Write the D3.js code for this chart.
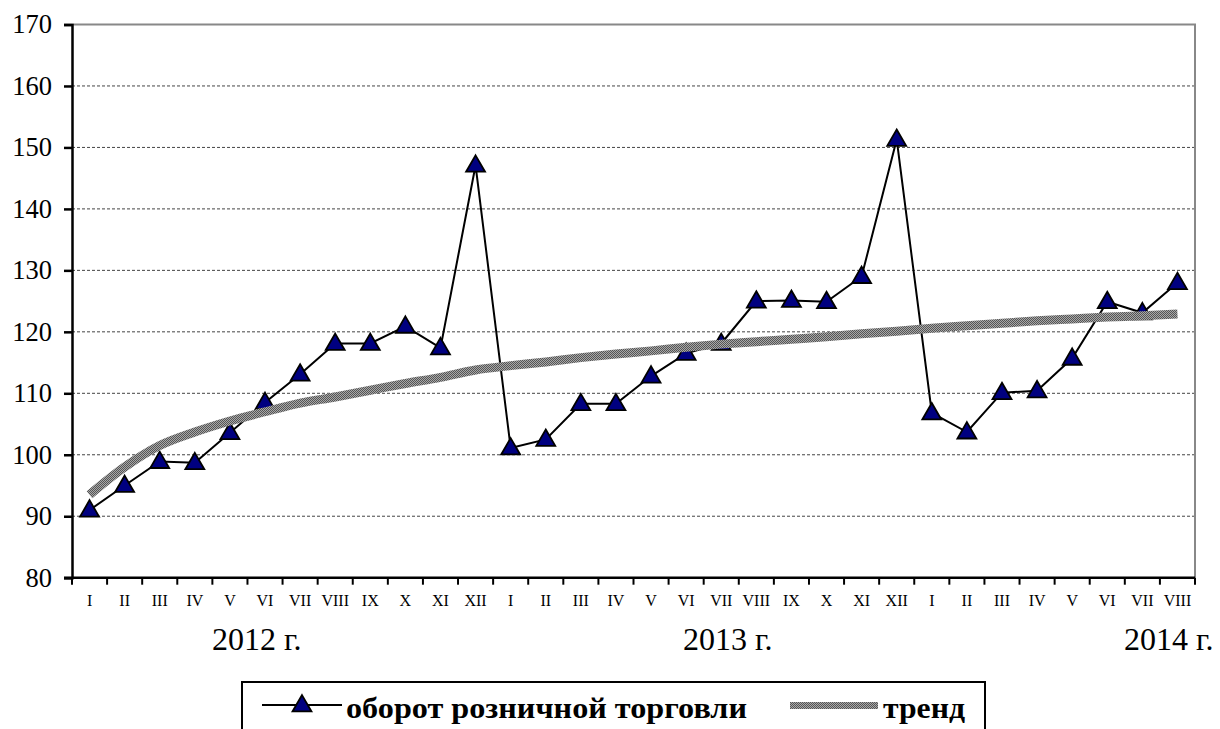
<!DOCTYPE html>
<html><head><meta charset="utf-8">
<script src="https://cdn.jsdelivr.net/npm/d3@7"></script>
<style>
html,body{margin:0;padding:0;background:#fff;}
svg{display:block;}
svg text{font-family:"Liberation Serif","Times New Roman",serif !important;}
</style></head>
<body>
<svg id="chart" width="1220" height="729"></svg>
<script>
const months = ["I","II","III","IV","V","VI","VII","VIII","IX","X","XI","XII",
                "I","II","III","IV","V","VI","VII","VIII","IX","X","XI","XII",
                "I","II","III","IV","V","VI","VII","VIII"];
const retail = [91.0, 95.0, 98.9, 98.7, 103.6, 108.5, 113.1, 118.1, 118.1, 120.9, 117.4, 147.1,
                101.1, 102.5, 108.3, 108.3, 112.8, 116.5, 118.1, 125.0, 125.1, 124.9, 129.0, 151.3,
                106.8, 103.7, 110.1, 110.4, 115.7, 124.9, 123.1, 128.0];
const trend  = [93.5, 98.0, 101.5, 103.7, 105.5, 107.0, 108.4, 109.4, 110.5, 111.6, 112.6, 113.8,
                114.5, 115.1, 115.8, 116.4, 116.9, 117.5, 118.0, 118.4, 118.8, 119.2, 119.7, 120.1,
                120.6, 121.0, 121.4, 121.8, 122.1, 122.4, 122.6, 122.9];
const yTicks = [80, 90, 100, 110, 120, 130, 140, 150, 160, 170];
const years = ["2012 г.", "2013 г.", "2014 г."];
const legendLabels = ["оборот розничной торговли", "тренд"];

const svg = d3.select("#chart");
const L = 72, R = 1195, T = 24.5, B = 577.7;

const x = d3.scaleBand().domain(d3.range(months.length)).range([L, R]).padding(0);
const cx = i => x(i) + x.bandwidth() / 2;
const y = d3.scaleLinear().domain([80, 170]).range([B, T]);

// pattern for trend
const defs = svg.append("defs");
const pat = defs.append("pattern").attr("id", "hatch").attr("patternUnits", "userSpaceOnUse")
  .attr("width", 2).attr("height", 2);
pat.append("rect").attr("width", 2).attr("height", 2).attr("fill", "#a8a8a8");
pat.append("rect").attr("width", 1).attr("height", 1).attr("fill", "#555");
pat.append("rect").attr("x", 1).attr("y", 1).attr("width", 1).attr("height", 1).attr("fill", "#555");

// gridlines
svg.append("g").selectAll("line").data(yTicks.filter(d => d > 80 && d < 170)).join("line")
  .attr("x1", L).attr("x2", R).attr("y1", d => y(d)).attr("y2", d => y(d))
  .attr("stroke", "#444").attr("stroke-width", 1).attr("stroke-dasharray", "3,2");

// top and right border
svg.append("line").attr("x1", L).attr("x2", R + 1).attr("y1", y(170)).attr("y2", y(170))
  .attr("stroke", "#888").attr("stroke-width", 2);
svg.append("line").attr("x1", R).attr("x2", R).attr("y1", y(170)).attr("y2", B)
  .attr("stroke", "#888").attr("stroke-width", 2);

// y axis
const yAxis = svg.append("g").attr("transform", `translate(${L},0)`)
  .call(d3.axisLeft(y).tickValues(yTicks).tickSize(8).tickPadding(12).tickFormat(d3.format("d")));
yAxis.attr("font-family", null).attr("font-size", null);
yAxis.select(".domain").attr("stroke", "#000").attr("stroke-width", 2.5);
yAxis.selectAll(".tick line").attr("stroke", "#000").attr("stroke-width", 2.5);
yAxis.selectAll(".tick text").style("font-size", "26.5px").attr("fill", "#000");

// x axis
const xAxis = svg.append("g").attr("transform", `translate(0,${B})`);
xAxis.append("line").attr("x1", L - 8).attr("x2", R).attr("y1", 0).attr("y2", 0)
  .attr("stroke", "#000").attr("stroke-width", 2.5);
xAxis.selectAll("line.tk").data(d3.range(months.length + 1)).join("line").attr("class", "tk")
  .attr("x1", i => i < months.length ? x(i) : R).attr("x2", i => i < months.length ? x(i) : R)
  .attr("y1", 0).attr("y2", 7).attr("stroke", "#000").attr("stroke-width", 2);
xAxis.selectAll("text").data(months).join("text")
  .attr("x", (d, i) => cx(i)).attr("y", 28).attr("text-anchor", "middle")
  .style("font-size", "16px").attr("fill", "#000").text(d => d);

// year labels
const yearX = [212, 683, 1124];
svg.append("g").selectAll("text").data(years).join("text")
  .attr("x", (d, i) => yearX[i]).attr("y", 650)
  .style("font-size", "32px").attr("fill", "#000").text(d => d);

// retail line
const line = d3.line().x((d, i) => cx(i)).y(d => y(d));
svg.append("path").datum(retail).attr("d", line).attr("fill", "none")
  .attr("stroke", "#000").attr("stroke-width", 2);

const tri = d3.symbol().type(d3.symbolTriangle).size(155);
svg.append("g").selectAll("path").data(retail).join("path")
  .attr("d", tri).attr("transform", (d, i) => `translate(${cx(i)},${y(d) + 1})`)
  .attr("fill", "#000080").attr("stroke", "#000").attr("stroke-width", 1.8);

// trend line (on top)
const tline = d3.line().x((d, i) => cx(i)).y(d => y(d)).curve(d3.curveMonotoneX);
svg.append("path").datum(trend).attr("d", tline).attr("fill", "none")
  .attr("stroke", "url(#hatch)").attr("stroke-width", 9);

// legend
const lg = svg.append("g");
lg.append("rect").attr("x", 242).attr("y", 682).attr("width", 743).attr("height", 60)
  .attr("fill", "#fff").attr("stroke", "#000").attr("stroke-width", 2);
lg.append("line").attr("x1", 262).attr("x2", 342).attr("y1", 705).attr("y2", 705)
  .attr("stroke", "#000").attr("stroke-width", 2);
lg.append("path").attr("d", tri).attr("transform", "translate(302,706)")
  .attr("fill", "#000080").attr("stroke", "#000").attr("stroke-width", 1.8);
lg.append("text").attr("x", 346).attr("y", 718).style("font-size", "29px").style("font-weight", "bold")
  .attr("textLength", 401).attr("lengthAdjust", "spacingAndGlyphs")
  .attr("fill", "#000").text(legendLabels[0]);
lg.append("rect").attr("x", 790).attr("y", 702).attr("width", 88).attr("height", 7)
  .attr("fill", "url(#hatch)");
lg.append("text").attr("x", 883).attr("y", 718).style("font-size", "29px").style("font-weight", "bold")
  .attr("textLength", 82).attr("lengthAdjust", "spacingAndGlyphs")
  .attr("fill", "#000").text(legendLabels[1]);
</script>
</body></html>
